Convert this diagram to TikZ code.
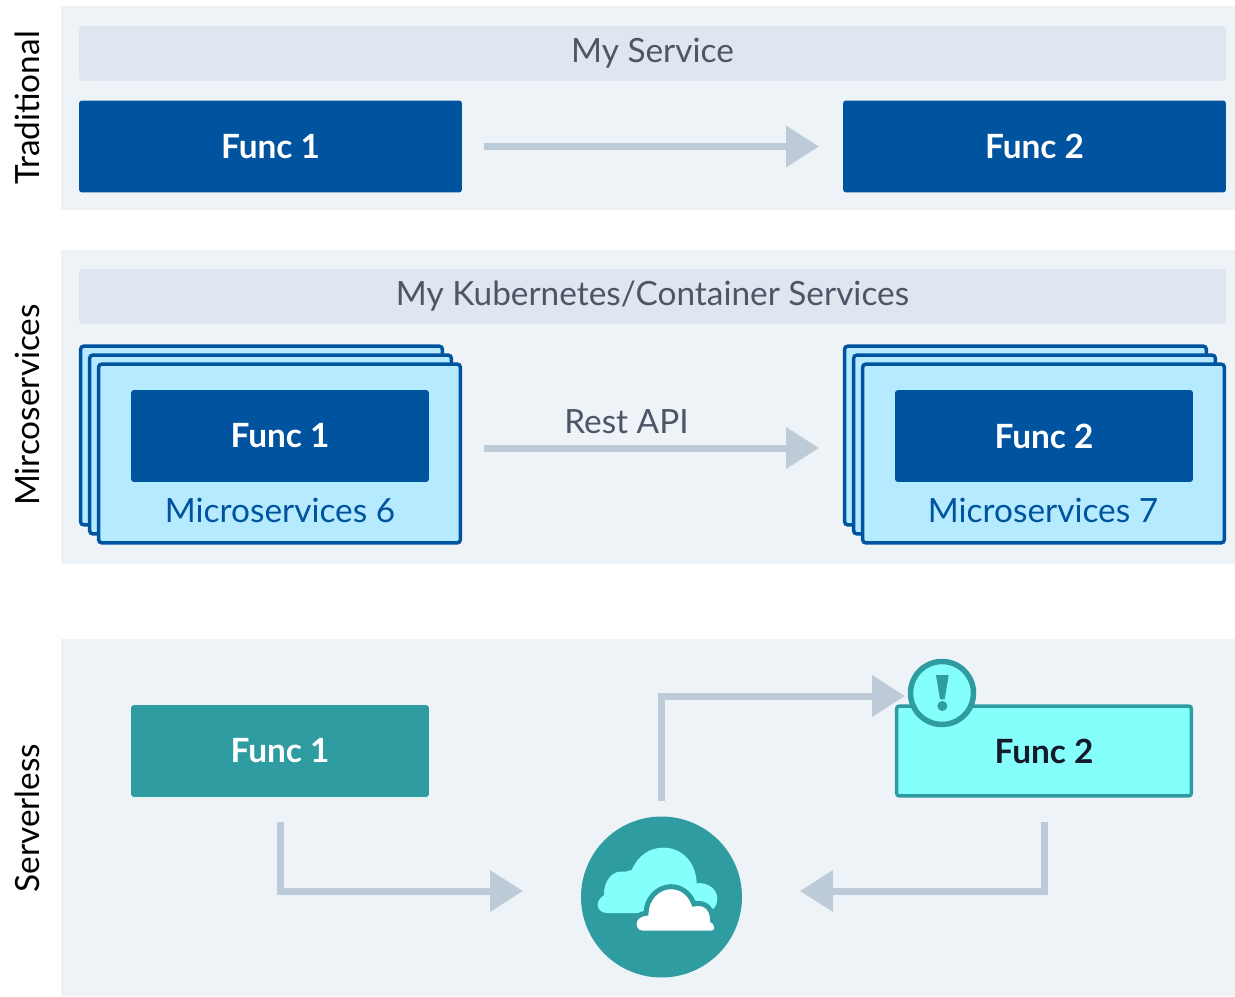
\documentclass[tikz,border=0pt]{standalone}
\usepackage{fontspec}
\setmainfont{Lato}
\usetikzlibrary{positioning}
\usetikzlibrary{arrows.meta}

\definecolor{panelbg}{HTML}{EEF3F8}
\definecolor{barbg}{HTML}{DFE6F0}
\definecolor{bartext}{HTML}{4D5566}
\definecolor{funcblue}{HTML}{00539F}
\definecolor{cardbg}{HTML}{B5EAFF}
\definecolor{functeal}{HTML}{2E9CA0}
\definecolor{funcaqua}{HTML}{85FFFC}
\definecolor{flowgrey}{HTML}{BCCBD7}
\definecolor{darktext}{HTML}{151A2B}

\tikzset{
    panel/.style={fill=panelbg, inner sep=0, outer sep=0},
    headbar/.style={fill=barbg, rounded corners=0.06cm, inner sep=0, outer sep=0, minimum width=22.94cm, minimum height=1.1cm, text=bartext, font=\fontsize{19}{23}\selectfont},
    funcbox/.style={fill=funcblue, rounded corners=0.06cm, inner sep=0, outer sep=0, minimum height=1.84cm, text=white, font=\fontsize{19}{23}\selectfont\bfseries},
    card/.style={draw=funcblue, fill=cardbg, line width=0.07cm, rounded corners=0.07cm, inner sep=0, outer sep=0, minimum width=7.24cm, minimum height=3.58cm},
    cardlabel/.style={text=funcblue, inner sep=0, font=\fontsize{19}{23}\selectfont},
    sidelabel/.style={rotate=90, inner sep=0, text=black, font=\fontsize{19}{23}\selectfont},
    flow/.style={draw=flowgrey, line width=0.14cm, -{Triangle[length=0.66cm, width=0.8cm]}},
}

\begin{document}
\begin{tikzpicture}[x=0.02cm, y=-0.02cm]

    \useasboundingbox (0,0) rectangle (1235,997);

    % panels
    \node[panel, minimum width=23.48cm, minimum height=4.08cm] (tradpanel) at (648,108) {};
    \node[panel, minimum width=23.48cm, minimum height=6.28cm] (micropanel) at (648,407) {};
    \node[panel, minimum width=23.48cm, minimum height=7.14cm] (lesspanel) at (648,817.5) {};

    \node[sidelabel] (tradlabel) at (27,108) {Traditional};
    \node[sidelabel] (microlabel) at (27,405) {Mircoservices};
    \node[sidelabel] (lesslabel) at (27,818) {Serverless};

    % traditional
    \node[headbar] (tradbar) at (652.5,53.5) {My Service};
    \node[funcbox, minimum width=7.66cm] (tradfa) at (270.5,146.5) {Func 1};
    \node[funcbox, minimum width=7.66cm] (tradfb) at (1034.5,146.5) {Func 2};
    \draw[flow, shorten <=0.44cm, shorten >=0.48cm] (tradfa) -- (tradfb);

    % microservices
    \node[headbar] (microbar) at (652.5,296.5) {My Kubernetes/Container Services};
    \foreach \i/\dx in {1/0,2/9,3/18} {
        \node[card] (leftcard\i) at (261.5+\dx,435.5+\dx) {};
        \node[card] (rightcard\i) at (1025.5+\dx,435.5+\dx) {};
    }
    \node[funcbox, minimum width=5.96cm] (microfa) at (280,436) {Func 1};
    \node[funcbox, minimum width=5.96cm] (microfb) at (1044,436) {Func 2};
    \node[cardlabel] (leftlabel) at (280,510) {Microservices 6};
    \node[cardlabel] (rightlabel) at (1043,510) {Microservices 7};
    \coordinate (reststart) at (484,448);
    \coordinate (restend) at (819,448);
    \draw[flow] (reststart) -- node[above=0.22cm, inner sep=0, text=bartext, font=\fontsize{19}{23}\selectfont, xshift=-0.5cm] (restlabel) {Rest API} (restend);

    % serverless
    \node[funcbox, minimum width=5.96cm, fill=functeal] (lessfa) at (280,751) {Func 1};
    \node[funcbox, minimum width=5.9cm, minimum height=1.8cm, fill=funcaqua, draw=functeal, line width=0.07cm, text=darktext] (lessfb) at (1044,751) {Func 2};
    \node[circle, fill=functeal, inner sep=0, outer sep=0, minimum size=3.22cm] (cloudhub) at (661.5,897) {};

    \coordinate (upstart) at (661,801);
    \coordinate (upend) at (905,696);
    \coordinate (infa) at (280,822);
    \coordinate (infb) at (1044,822);
    \coordinate (hubleft) at (523,891);
    \coordinate (hubright) at (800,891);
    \draw[flow] (upstart) |- (upend);
    \draw[flow] (infa) |- (hubleft);
    \draw[flow] (infb) |- (hubright);

    % alert badge
    \node[circle, draw=functeal, fill=funcaqua, line width=0.11cm, inner sep=0, outer sep=0, minimum size=1.26cm] (alert) at (942,693) {};

    % icons, in zoomed units
    \begin{scope}[shift={(560,640)}, scale=1/3]
        \path[fill=functeal] (1128,105) -- (1166,105) -- (1154,178) -- (1140,178) -- cycle;
        \path[fill=functeal] (1147,198) circle (15);
        \path[fill=funcaqua] (140,819) .. controls (122,819) and (113,805) .. (113,795)
            .. controls (113,782) and (122,772) .. (132,766)
            .. controls (130,720) and (160,695) .. (180,695)
            .. controls (195,695) and (205,695) .. (215,690)
            .. controls (235,645) and (270,623) .. (310,623)
            .. controls (365,623) and (408,665) .. (410,730)
            .. controls (445,725) and (472,750) .. (472,775)
            .. controls (472,785) and (470,795) .. (462,805)
            -- (400,819) -- cycle;
        \path[draw=functeal, line width=0.1cm, fill=white] (245,879) .. controls (230,879) and (222,865) .. (222,852)
            .. controls (222,835) and (235,822) .. (258,820)
            .. controls (258,775) and (295,740) .. (332,740)
            .. controls (365,740) and (390,760) .. (402,792)
            .. controls (430,785) and (458,800) .. (458,842)
            .. controls (465,845) and (471,855) .. (471,865)
            .. controls (471,872) and (465,879) .. (458,879) -- cycle;
    \end{scope}

\end{tikzpicture}
\end{document}
